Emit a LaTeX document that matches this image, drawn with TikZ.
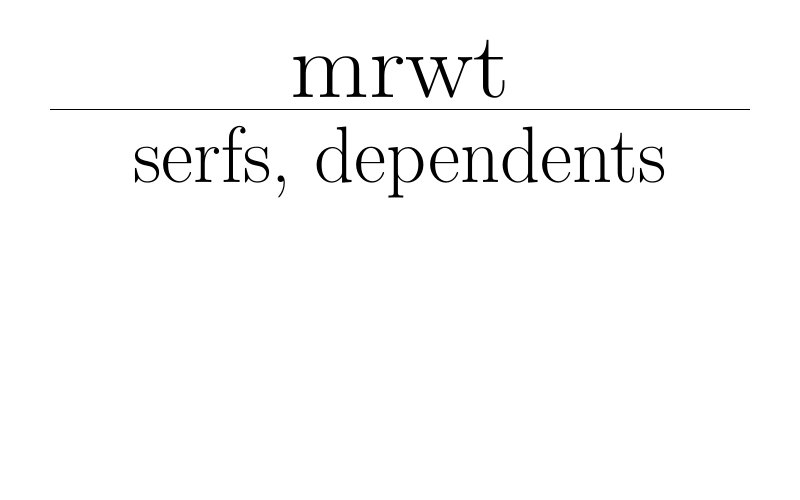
\documentclass[tikz,border=0pt]{standalone}
\begin{document}
\begin{tikzpicture}[x=1pt,y=1pt,
  big/.style={font=\fontsize{93}{100}\selectfont,inner sep=0pt,anchor=base},
  mid/.style={font=\fontsize{80}{88}\selectfont,inner sep=0pt,anchor=base}]
\useasboundingbox (0,0) rectangle (800,500);
\node[big] (top) at (400,402) {\scalebox{1.1}[1]{mrwt}};
\coordinate (l) at (50,390);
\coordinate (r) at (750,390);
\draw[line width=1pt] (l) -- (r);
\node[mid] (bot) at (400,317) {\scalebox{0.98}[1]{serfs, dependents}};
\end{tikzpicture}
\end{document}
